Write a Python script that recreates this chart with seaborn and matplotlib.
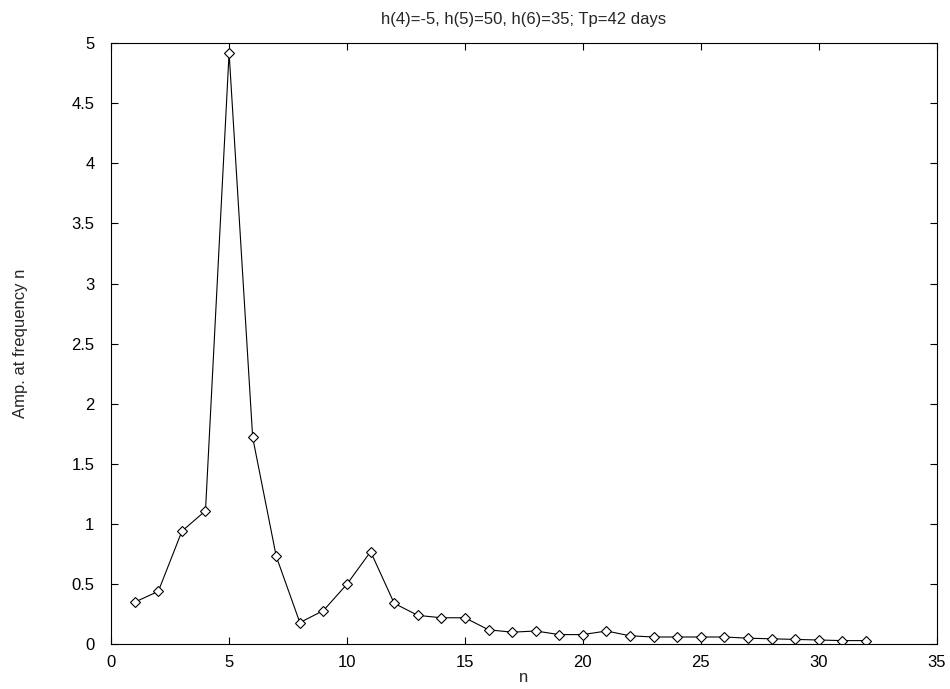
import matplotlib
matplotlib.use("Agg")
import matplotlib.pyplot as plt
import seaborn as sns
import pandas as pd

# Spectral amplitude at each harmonic n
n = list(range(1, 33))
amp = [0.35, 0.44, 0.94, 1.11, 4.92, 1.72, 0.73, 0.18, 0.28, 0.50,
       0.77, 0.34, 0.24, 0.22, 0.22, 0.12, 0.10, 0.11, 0.08, 0.08,
       0.11, 0.07, 0.06, 0.06, 0.06, 0.06, 0.05, 0.045, 0.04, 0.035,
       0.03, 0.03]
title = "h(4)=-5, h(5)=50, h(6)=35; Tp=42 days"
xticks = [0, 5, 10, 15, 20, 25, 30, 35]
yticks = [0, 0.5, 1, 1.5, 2, 2.5, 3, 3.5, 4, 4.5, 5]

sns.set_theme(style="ticks")
plt.rcParams["font.family"] = ["Liberation Sans", "DejaVu Sans"]

df = pd.DataFrame({"n": n, "amp": amp})

fig = plt.figure(figsize=(9.5, 6.89), dpi=100)
ax = fig.add_axes([0.117, 0.065, 0.869, 0.8725])

sns.lineplot(data=df, x="n", y="amp", ax=ax, color="black", linewidth=0.8,
             marker="D", markersize=5, markerfacecolor="white",
             markeredgecolor="black", markeredgewidth=0.8)

ax.set_xlim(0, 35)
ax.set_ylim(0, 5)
ax.set_xticks(xticks)
ax.set_yticks(yticks)
ax.set_yticklabels(["0", "0.5", "1", "1.5", "2", "2.5", "3", "3.5", "4", "4.5", "5"])
ax.tick_params(direction="in", top=True, right=True, length=5, width=0.8,
               labelsize=12, colors="black")
ax.tick_params(axis="y", pad=12)
ax.tick_params(axis="x", pad=8)
for s in ax.spines.values():
    s.set_visible(True)
    s.set_linewidth(0.8)
    s.set_color("black")

ax.set_xlabel("n", fontsize=12, labelpad=0)
ax.set_ylabel("Amp. at frequency n", fontsize=12, labelpad=31)
ax.set_title(title, fontsize=12, pad=14)

fig.savefig("out.png", dpi=100, facecolor="white")
